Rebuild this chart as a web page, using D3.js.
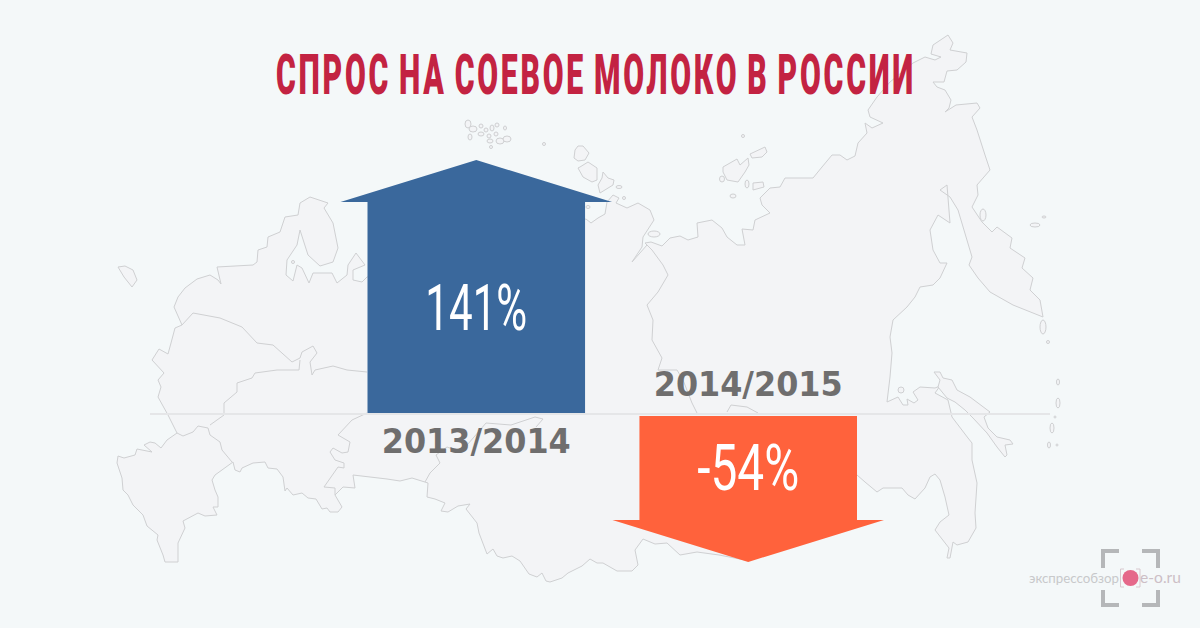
<!DOCTYPE html>
<html>
<head>
<meta charset="utf-8">
<script src="https://cdn.jsdelivr.net/npm/d3@7"></script>
<style>
	html, body { margin: 0; padding: 0; background: #f4f8f9; }
	svg { display: block; }
</style>
</head>
<body>
<svg id="chart" width="1200" height="628"></svg>
<script>

// chart values
var seasons = ["2013/2014", "2014/2015"];
var demandChange = [141, -54];
var changeLabels = ["141%", "-54%"];
var chartTitle = "СПРОС НА СОЕВОЕ МОЛОКО В РОССИИ";

// backdrop map
var mainland = [[165,562],[163,555],[157,540],[158,535],[147,526],[143,515],[133,505],[128,495],[123,490],[122,478],[117,463],[118,456],[124,458],[135,455],[137,449],[152,452],[144,445],[150,442],[155,443],[161,448],[167,440],[177,433],[168,415],[158,397],[161,387],[158,380],[164,373],[152,360],[159,349],[168,354],[171,343],[175,328],[182,325],[174,307],[178,297],[185,288],[197,279],[210,275],[218,280],[221,284],[217,267],[253,265],[257,262],[258,250],[267,247],[268,237],[280,232],[285,217],[298,215],[300,203],[310,197],[328,203],[324,208],[333,223],[338,248],[333,262],[320,266],[308,255],[300,230],[297,245],[287,260],[286,275],[293,281],[297,265],[302,268],[309,283],[313,273],[332,273],[337,283],[347,275],[348,265],[356,253],[365,265],[353,270],[353,280],[362,282],[367,277],[586,219],[591,223],[598,218],[605,214],[607,202],[613,195],[619,198],[616,203],[627,208],[638,203],[650,210],[654,220],[643,237],[642,247],[632,262],[647,245],[645,243],[651,242],[662,246],[670,238],[680,236],[688,240],[698,237],[697,223],[712,220],[722,228],[727,237],[737,245],[745,245],[742,229],[753,230],[755,220],[770,213],[762,205],[760,198],[770,188],[780,187],[785,178],[797,178],[813,178],[822,167],[832,155],[840,155],[847,160],[855,156],[858,143],[867,133],[865,123],[872,128],[883,123],[870,117],[868,110],[877,97],[890,82],[913,63],[925,57],[935,60],[941,57],[931,54],[933,45],[948,35],[953,43],[950,50],[967,53],[966,62],[957,70],[947,71],[944,82],[933,82],[937,87],[945,90],[951,100],[949,108],[945,112],[956,105],[977,103],[980,108],[972,117],[977,130],[985,155],[990,170],[977,185],[978,195],[972,207],[982,222],[992,232],[997,227],[1012,238],[1010,248],[1025,258],[1022,268],[1033,278],[1030,290],[1040,300],[1043,317],[1013,305],[990,292],[978,278],[969,265],[972,257],[958,210],[950,197],[940,190],[947,185],[950,223],[938,215],[930,230],[933,250],[940,263],[947,263],[940,278],[933,285],[920,287],[915,297],[907,307],[893,320],[890,337],[892,353],[890,377],[887,402],[898,397],[903,405],[908,405],[907,399],[914,403],[918,400],[913,392],[920,387],[935,388],[940,386],[935,393],[948,400],[952,417],[968,438],[972,443],[972,460],[977,483],[975,513],[976,528],[968,542],[957,545],[953,542],[950,558],[947,558],[949,548],[935,530],[940,522],[949,515],[945,497],[940,480],[935,474],[930,477],[925,488],[915,499],[908,495],[902,488],[883,488],[877,492],[865,482],[857,475],[745,560],[719,555],[697,552],[680,555],[667,543],[655,544],[643,539],[635,550],[638,565],[632,571],[617,571],[603,563],[597,563],[590,559],[582,566],[568,573],[562,578],[550,582],[546,581],[542,573],[537,577],[529,574],[520,561],[512,556],[503,558],[497,556],[493,549],[487,554],[479,533],[477,523],[466,509],[470,504],[458,506],[448,512],[441,511],[445,503],[435,499],[427,497],[428,483],[412,478],[400,481],[387,479],[353,475],[355,488],[343,487],[335,495],[342,507],[338,512],[330,512],[327,508],[322,509],[316,499],[308,498],[302,493],[293,495],[287,488],[285,491],[283,477],[277,469],[268,468],[265,462],[253,463],[242,468],[240,472],[235,470],[233,462],[215,475],[212,480],[215,490],[218,497],[218,507],[213,507],[217,515],[205,516],[198,513],[183,521],[185,528],[178,543],[178,562]];
var innerBorders = [
	[[182,325],[193,313],[220,318],[242,327],[257,343],[273,345],[292,362],[300,358],[302,352],[313,346],[317,353],[310,362],[312,375],[315,370],[333,366],[347,370],[367,372]],
	[[300,360],[299,370],[277,370],[255,373],[252,378],[237,383],[237,392],[224,403],[224,415],[210,425]],
	[[177,433],[183,436],[193,432],[198,426],[208,428],[210,435],[220,442],[222,450],[232,462]],
	[[367,413],[352,420],[338,435],[350,442],[348,452],[342,453],[333,448],[330,452],[335,460],[344,463],[344,468],[338,467],[324,487],[335,488],[335,495]],
	[[425,482],[430,473],[440,463],[436,455],[447,447],[461,452],[474,437],[486,423],[511,425],[535,417],[543,419],[536,427]],
	[[647,245],[652,250],[663,265],[668,275],[658,292],[647,305],[653,320],[652,340],[662,358],[658,370],[677,370],[683,380],[692,403],[697,413]],
	[[727,412],[731,405],[747,407],[758,413]]
];
var islandShapes = [
	[[118,267],[125,266],[133,270],[137,280],[132,287],[124,277]],
	[[575,150],[578,146],[583,146],[589,153],[585,160],[578,161],[574,158]],
	[[580,167],[588,162],[597,168],[597,180],[592,182],[583,177],[578,168]],
	[[603,172],[608,178],[614,180],[613,185],[600,193],[598,185],[602,178]],
	[[750,154],[765,147],[767,152],[762,157],[752,158]],
	[[723,167],[737,159],[740,165],[748,158],[749,165],[745,172],[738,182],[727,180],[723,172]],
	[[753,183],[763,182],[764,187],[753,190]],
	[[934,372],[940,372],[943,378],[952,380],[957,390],[970,397],[990,412],[984,417],[988,428],[997,437],[1010,440],[1013,444],[1005,445],[1007,455],[1005,457],[997,447],[987,433],[973,418],[965,410],[955,402],[947,398],[938,387],[940,380]]
];
// small islands: cx, cy, rx, ry
var islets = [[468,124,3,4],[473,129,4,3],[481,126,2,2],[470,137,2,3],[481,134,3,2],[486,130,2,2],[492,128,2,3],[497,125,2,2],[489,136,2,2],[496,134,2,2],[500,141,4,3],[507,139,4,3],[490,141,3,2],[505,128,1.5,2],[491,147,1.5,1.5],[544,144,1.5,1.5],[619,187,3,1.5],[624,198,1.5,1.5],[743,136,1.5,1.5],[722,179,2.5,3],[747,184,2,4],[733,196,3,2],[654,234,6,3],[588,207,2,1.5],[293,262,1.5,1.5],[901,390,3,3],[983,215,3,6],[1035,225,5,2],[1044,217,2,1],[1043,327,3,7],[1048,342,1.5,1.5],[1058,382,1.5,3],[1058,403,2,5],[1055,417,1,1],[1052,428,2,5],[1049,445,1.5,3],[1057,445,1,1]];

var svg = d3.select("#chart");
var width = 1200, height = 628;
var baselineY = 414;
var headHeight = 42, headOverhang = 27;

var x = d3.scaleBand()
	.domain(seasons)
	.range([367.5, 857])
	.paddingInner(0.2);

// the picture does not use one unit per percent, so the axis bends at zero
var y = d3.scaleLinear()
	.domain([d3.min(demandChange), 0, d3.max(demandChange)])
	.range([562, baselineY, 160]);

svg.append("rect")
	.attr("width", width)
	.attr("height", height)
	.attr("fill", "#f4f8f9");

// map
var mapLine = d3.line();
var map = svg.append("g")
	.attr("fill", "#f3f4f6")
	.attr("stroke", "#cfd0d2")
	.attr("stroke-width", 1)
	.attr("stroke-linejoin", "round");

map.append("path").attr("d", mapLine(mainland) + "Z");

map.selectAll(".border")
	.data(innerBorders)
	.enter().append("path")
	.attr("class", "border")
	.attr("fill", "none")
	.attr("d", function(d) { return mapLine(d); });

map.selectAll(".island")
	.data(islandShapes)
	.enter().append("path")
	.attr("class", "island")
	.attr("d", function(d) { return mapLine(d) + "Z"; });

map.selectAll("ellipse")
	.data(islets)
	.enter().append("ellipse")
	.attr("cx", function(d) { return d[0]; })
	.attr("cy", function(d) { return d[1]; })
	.attr("rx", function(d) { return d[2]; })
	.attr("ry", function(d) { return d[3]; });

// zero line
svg.append("line")
	.attr("x1", 150)
	.attr("x2", 1050)
	.attr("y1", baselineY)
	.attr("y2", baselineY)
	.attr("stroke", "#e5e6e8")
	.attr("stroke-width", 2);

// stretch a text to the width it has in the picture
function fitWidth(sel, left, w) {
	var len = sel.node().getComputedTextLength();
	sel.attr("text-anchor", "start")
		.attr("transform", "translate(" + left + "," + sel.attr("y") + ") scale(" + (w / len) + ",1)")
		.attr("y", 0);
}

var rows = seasons.map(function(s, i) {
	return { season: s, value: demandChange[i], label: changeLabels[i] };
});

function arrowPath(d) {
	var x0 = x(d.season), x1 = x0 + x.bandwidth();
	var dir = d.value > 0 ? -1 : 1;
	var start = baselineY + (d.value > 0 ? -1 : 2);
	var tip = y(d.value);
	var shoulder = tip - dir * headHeight;
	return d3.line()([
		[x0, start],
		[x0, shoulder],
		[x0 - headOverhang, shoulder],
		[(x0 + x1) / 2, tip],
		[x1 + headOverhang, shoulder],
		[x1, shoulder],
		[x1, start]
	]) + "Z";
}

var bars = svg.selectAll(".arrow")
	.data(rows)
	.enter().append("g")
	.attr("class", "arrow");

bars.append("path")
	.attr("d", arrowPath)
	.attr("fill", function(d) { return d.value > 0 ? "#3a689c" : "#ff623c"; });

bars.append("text")
	.attr("y", function(d) { return d.value > 0 ? 453 : 396; })
	.attr("font-family", "DejaVu Sans")
	.attr("font-weight", "bold")
	.attr("font-size", 34)
	.attr("fill", "#6f6e6e")
	.text(function(d) { return d.season; })
	.each(function(d) {
		fitWidth(d3.select(this), x(d.season) + x.bandwidth() / 2 - 94.5, 189);
	});

bars.append("text")
	.attr("y", function(d) { return d.value > 0 ? 330 : 490; })
	.attr("font-family", "Roboto")
	.attr("font-weight", 400)
	.attr("font-size", 65)
	.attr("fill", "#fff")
	.text(function(d) { return d.label; })
	.each(function(d) {
		fitWidth(d3.select(this), x(d.season) + x.bandwidth() / 2 - 51, 102);
	});

// title
svg.append("text")
	.attr("y", 94)
	.attr("font-family", "Roboto")
	.attr("font-weight", 900)
	.attr("font-size", 55)
	.attr("letter-spacing", 5)
	.attr("word-spacing", -4)
	.attr("fill", "#c32342")
	.text(chartTitle)
	.call(fitWidth, 276, 640);

// logo
var logo = svg.append("g");

logo.append("path")
	.attr("fill", "none")
	.attr("stroke", "#b5b7b9")
	.attr("stroke-width", 4)
	.attr("d", "M1119,551H1103V568M1142,551H1158V568M1119,605H1103V590M1142,605H1158V590");

logo.append("path")
	.attr("fill", "none")
	.attr("stroke", "#d8c8ce")
	.attr("stroke-width", 1)
	.attr("d", "M1124,569H1120.5V587H1124M1136,569H1140V587H1136");

logo.append("circle")
	.attr("cx", 1130.5)
	.attr("cy", 578)
	.attr("r", 8)
	.attr("fill", "#e5688a");

logo.append("text")
	.attr("y", 583)
	.attr("font-family", "Lato")
	.attr("font-size", 14)
	.attr("fill", "#c8c9cb")
	.text("экспрессобзор")
	.call(fitWidth, 1029, 90);

logo.append("text")
	.attr("y", 583)
	.attr("font-family", "Lato")
	.attr("font-size", 15)
	.attr("fill", "#cdbfc6")
	.text("e-o.ru")
	.call(fitWidth, 1140, 41);

</script>
</body>
</html>
